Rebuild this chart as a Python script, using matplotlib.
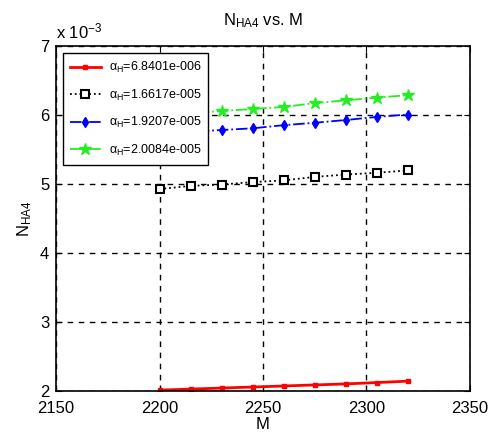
import matplotlib
matplotlib.use("Agg")
import matplotlib.pyplot as plt
from matplotlib.ticker import FuncFormatter

plt.rcParams['font.family'] = ['Liberation Sans', 'DejaVu Sans']
plt.rcParams['mathtext.fontset'] = 'custom'
plt.rcParams['mathtext.rm'] = 'Liberation Sans'
plt.rcParams['mathtext.it'] = 'Liberation Sans'

M = [2200, 2215, 2230, 2245, 2260, 2275, 2290, 2305, 2320]
labels = ["6.8401e-006", "1.6617e-005", "1.9207e-005", "2.0084e-005"]
n_red = [2.015, 2.03, 2.045, 2.06, 2.075, 2.09, 2.105, 2.125, 2.145]
n_black = [4.93, 4.975, 4.995, 5.03, 5.055, 5.105, 5.14, 5.165, 5.20]
n_blue = [5.73, 5.76, 5.785, 5.81, 5.855, 5.89, 5.93, 5.975, 6.01]
n_green = [6.00, 6.03, 6.06, 6.09, 6.12, 6.175, 6.215, 6.255, 6.29]
scale = 1e-3

fig = plt.figure(figsize=(4.92, 4.40), dpi=100)
ax = fig.add_axes([0.114, 0.111, 0.841, 0.784])

ax.plot(M, [v * scale for v in n_red], color='red', lw=2, ls='-', marker='s', ms=2.5,
        label=r'$\alpha_H$=' + labels[0])
ax.plot(M, [v * scale for v in n_black], color='black', lw=1.3, ls=':', marker='s', ms=6,
        mfc='white', mec='black', mew=1.5, label=r'$\alpha_H$=' + labels[1])
ax.plot(M, [v * scale for v in n_blue], color='blue', lw=1.3, ls='-.', marker='d', ms=5,
        label=r'$\alpha_H$=' + labels[2])
ax.plot(M, [v * scale for v in n_green], color='#22ee22', lw=1.3, ls='-.', marker='*', ms=9,
        label=r'$\alpha_H$=' + labels[3])

ax.set_xlim(2150, 2350)
ax.set_ylim(2e-3, 7e-3)
ax.set_xticks([2150, 2200, 2250, 2300, 2350])
ax.set_yticks([v * scale for v in [2, 3, 4, 5, 6, 7]])
ax.yaxis.set_major_formatter(FuncFormatter(lambda v, p: f"{v / scale:.0f}"))
ax.grid(True, color='black', ls=(0, (4, 4)), lw=1.0)
ax.tick_params(direction='in', top=True, right=True, labelsize=12, length=4)
ax.tick_params(axis='x', pad=7)
ax.tick_params(axis='y', pad=5)
for s in ax.spines.values():
    s.set_linewidth(1.2)

ax.set_xlabel('M', fontsize=12, labelpad=1)
ax.set_ylabel(r'N$_{\rm HA4}$', fontsize=12)
ax.set_title(r'N$_{\rm HA4}$ vs. M', fontsize=12, pad=15)
ax.text(0.0, 1.015, r'x 10$^{-3}$', transform=ax.transAxes, fontsize=12, ha='left', va='bottom')

leg = ax.legend(loc='upper left', fontsize=9, frameon=True, fancybox=False, framealpha=1,
                edgecolor='black', borderaxespad=0.55, handlelength=2.5, labelspacing=1.0,
                borderpad=0.55, handletextpad=0.6)
leg.get_frame().set_linewidth(1.0)

fig.savefig('out.png', dpi=100)
